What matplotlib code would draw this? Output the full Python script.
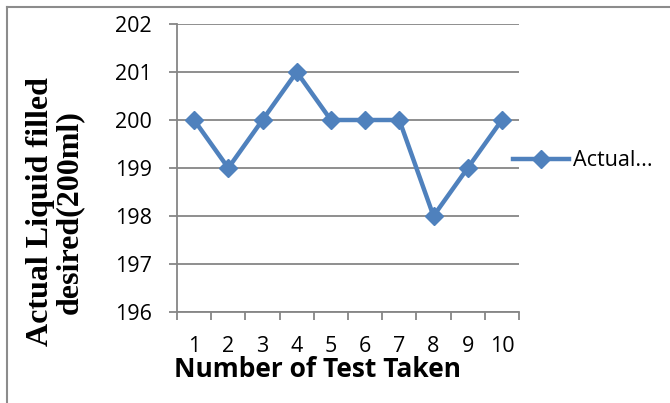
import matplotlib
matplotlib.use("Agg")
import matplotlib.pyplot as plt
from matplotlib.lines import Line2D

tests = [1, 2, 3, 4, 5, 6, 7, 8, 9, 10]
actual = [200, 199, 200, 201, 200, 200, 200, 198, 199, 200]
y_ticks = [196, 197, 198, 199, 200, 201, 202]

W, H = 670, 403
fig = plt.figure(figsize=(W / 100, H / 100), dpi=100)
ax = fig.add_axes([177 / W, 1 - 312 / H, (519 - 177) / W, (312 - 24) / H])

blue = "#4F81BD"
grid_c = "#868686"

ax.plot(tests, actual, color=blue, lw=3.2, marker="D", ms=9.5, mew=1,
        mec=blue, mfc=blue, label="Actual...", clip_on=False, zorder=3)

ax.set_xlim(0.5, 10.5)
ax.set_ylim(196, 202)
ax.set_yticks(y_ticks)
ax.set_xticks(tests)
ax.set_xticks([i + 0.5 for i in range(0, 11)], minor=True)
ax.yaxis.grid(True, color=grid_c, lw=1.3)
ax.set_axisbelow(True)

for s in ["top", "right"]:
    ax.spines[s].set_visible(False)
for s in ["left", "bottom"]:
    ax.spines[s].set_color(grid_c)
    ax.spines[s].set_linewidth(1.3)

tick_font = dict(family=["Open Sans", "DejaVu Sans"], size=15.5)
ax.tick_params(axis="y", which="major", length=6, width=1.3, color=grid_c,
               pad=12)
ax.tick_params(axis="x", which="major", length=0, pad=17)
ax.tick_params(axis="x", which="minor", length=6, width=1.3, color=grid_c,
               direction="out")
ax.set_yticklabels([str(v) for v in y_ticks], **tick_font)
ax.set_xticklabels([str(v) for v in tests], **tick_font)

xl = ax.set_xlabel("Number of Test Taken", family=["Open Sans", "DejaVu Sans"],
                   weight="bold", size=19)
xl.set_va("baseline")
ax.xaxis.set_label_coords((318 - 177) / (519 - 177), -(377 - 312) / (312 - 24))
ax.set_ylabel("Actual Liquid filled\ndesired(200ml)",
              family=["Liberation Serif", "DejaVu Serif"], weight="bold",
              size=23, linespacing=1.0)
ax.yaxis.set_label_coords(-(177 - 84) / (519 - 177), (312 - 212) / (312 - 24))

leg = ax.legend(loc="center left", bbox_to_anchor=(513 / W, 1 - 161 / H),
                bbox_transform=fig.transFigure, frameon=False,
                prop=dict(family=["Open Sans", "DejaVu Sans"], size=15.5),
                handlelength=2.6, handletextpad=0.2, borderaxespad=0,
                borderpad=0)

fig.add_artist(Line2D([7 / W, 1], [1 - 7 / H, 1 - 7 / H], color="#8c8c8c",
                      lw=1.5, transform=fig.transFigure))
fig.add_artist(Line2D([7 / W, 7 / W], [1 - 7 / H, 0], color="#8c8c8c",
                      lw=1.5, transform=fig.transFigure))

fig.savefig("out.png", dpi=100)
